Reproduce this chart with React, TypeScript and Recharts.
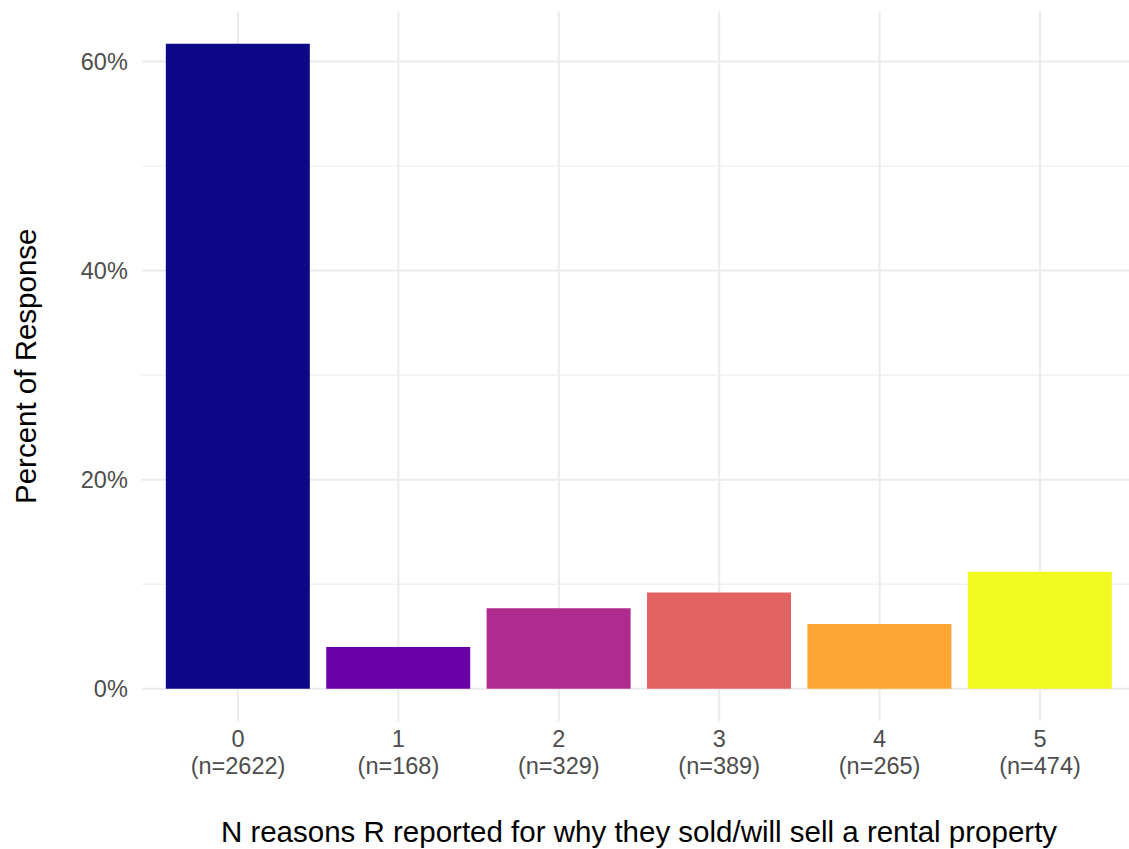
import React from 'react';
import { BarChart, Bar, Cell, XAxis, YAxis, CartesianGrid } from 'recharts';

const reasons = ['0', '1', '2', '3', '4', '5'];
const respondents = [2622, 168, 329, 389, 265, 474];
const percentResponse = [61.7, 4.0, 7.7, 9.2, 6.2, 11.2];
const barColors = ['#0D0887', '#6A00A8', '#B12A90', '#E16462', '#FCA636', '#F0F921'];
// major ticks get a label, minor ones only a thin grid line
const yTicks = [0, 10, 20, 30, 40, 50, 60];
const yMajorTicks = [0, 20, 40, 60];

const data = reasons.map((r, i) => ({ reason: r, n: respondents[i], pct: percentResponse[i] }));

const font = '"Liberation Sans", Arial, sans-serif';

const XTick = (props: any) => {
  const { x, y, payload, index } = props;
  return (
    <text x={x} y={y} textAnchor="middle" fill="#4D4D4D" fontSize={23.5} fontFamily={font}>
      <tspan x={x} dy={26}>{payload.value}</tspan>
      <tspan x={x} dy={27}>{`(n=${respondents[index]})`}</tspan>
    </text>
  );
};

const GridLine = (props: any) => {
  const { x1, y1, x2, y2, index } = props;
  const major = yMajorTicks.includes(yTicks[index]);
  return <line x1={x1} y1={y1} x2={x2} y2={y2} stroke="#EBEBEB" strokeWidth={major ? 2 : 1} />;
};

export default function App() {
  return (
    <div style={{ position: 'absolute', left: 0, top: 0, width: 1129, height: 849, overflow: 'hidden', background: '#fff' }}>
      <BarChart
        width={1129}
        height={849}
        data={data}
        margin={{ top: 11.5, right: -7.2, bottom: 0, left: 0 }}
        barCategoryGap="5%"
      >
        <CartesianGrid stroke="#EBEBEB" strokeWidth={2} horizontal={GridLine} syncWithTicks />
        <XAxis
          dataKey="reason"
          height={128}
          padding={{ left: 16, right: 16 }}
          axisLine={false}
          tickLine={false}
          tickSize={0}
          tickMargin={0}
          interval={0}
          tick={<XTick />}
          label={{
            content: ({ viewBox }: any) => (
              <text
                x={viewBox.x + viewBox.width / 2}
                y={842}
                textAnchor="middle"
                fill="#000"
                fontSize={29.5}
                fontFamily={font}
              >
                N reasons R reported for why they sold/will sell a rental property
              </text>
            ),
          }}
        />
        <YAxis
          width={141.8}
          domain={([, max]: number[]) => [-0.05 * max, max * 1.05]}
          ticks={yTicks}
          interval={0}
          tickFormatter={(v: number) => (yMajorTicks.includes(v) ? `${v}%` : '')}
          axisLine={false}
          tickLine={false}
          tickSize={0}
          tickMargin={14}
          tick={{ fill: '#4D4D4D', fontSize: 23.5, fontFamily: font }}
          label={{
            content: ({ viewBox }: any) => {
              const cy = viewBox.y + viewBox.height / 2;
              return (
                <text
                  x={36}
                  y={cy}
                  transform={`rotate(-90, 36, ${cy})`}
                  textAnchor="middle"
                  fill="#000"
                  fontSize={29.5}
                  fontFamily={font}
                >
                  Percent of Response
                </text>
              );
            },
          }}
        />
        <Bar dataKey="pct" isAnimationActive={false}>
          {data.map((d, i) => (
            <Cell key={d.reason} fill={barColors[i]} />
          ))}
        </Bar>
      </BarChart>
    </div>
  );
}
